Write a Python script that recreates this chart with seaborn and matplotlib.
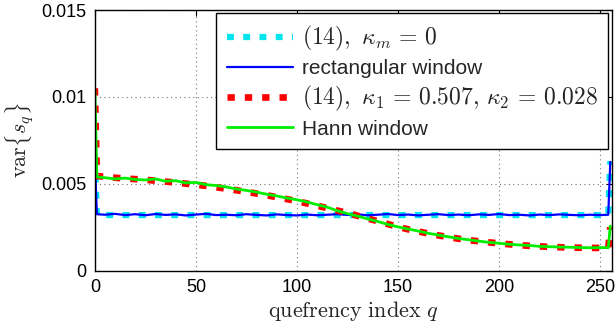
import matplotlib
matplotlib.use("Agg")
import matplotlib.pyplot as plt
import seaborn as sns
import pandas as pd

# ---- data ----
q = [0, 1, 5, 10, 15, 20, 25, 30, 35, 40, 45, 50, 55, 60, 65, 70, 75, 80, 85, 90,
     95, 100, 105, 110, 115, 120, 125, 130, 135, 140, 145, 150, 155, 160, 165, 170,
     175, 180, 185, 190, 195, 200, 205, 210, 215, 220, 225, 230, 235, 240, 245, 250,
     254, 255]

theory_rect = [0.0064] + [0.0032] * 52 + [0.0063]

rect_window = [0.0063, 0.00325, 0.00322, 0.00327, 0.0032, 0.00325, 0.00319, 0.00326,
               0.00321, 0.00324, 0.00318, 0.00323, 0.00327, 0.0032, 0.00322, 0.00319,
               0.00325, 0.00321, 0.00318, 0.00324, 0.0032, 0.00318, 0.00323, 0.00319,
               0.00322, 0.00325, 0.00321, 0.00324, 0.00319, 0.00322, 0.00326, 0.0032,
               0.00323, 0.00318, 0.00322, 0.00325, 0.0032, 0.00323, 0.00319, 0.00324,
               0.00321, 0.00326, 0.0032, 0.00322, 0.00318, 0.00323, 0.0032, 0.00324,
               0.00321, 0.00319, 0.00322, 0.0032, 0.00322, 0.00626]

theory_hann = [0.0105, 0.00545, 0.0054, 0.00535, 0.0053, 0.00527, 0.00523, 0.00518,
               0.00513, 0.00507, 0.00501, 0.00495, 0.00488, 0.0048, 0.00472, 0.00463,
               0.00454, 0.00444, 0.00434, 0.00423, 0.00412, 0.0040, 0.00387, 0.00374,
               0.0036, 0.00346, 0.00332, 0.00316, 0.003, 0.00285, 0.00268, 0.00252,
               0.00238, 0.00226, 0.00214, 0.00203, 0.00193, 0.00184, 0.00176, 0.00169,
               0.00163, 0.00157, 0.00152, 0.00147, 0.00143, 0.0014, 0.00137, 0.00135,
               0.00133, 0.00132, 0.00131, 0.00131, 0.0013, 0.0025]

hann_window = [0.0104, 0.0054, 0.00535, 0.00528, 0.00533, 0.00525, 0.00522, 0.00528,
               0.00515, 0.00518, 0.00505, 0.00508, 0.00495, 0.0049, 0.00482, 0.0047,
               0.00462, 0.00452, 0.0044, 0.0043, 0.00418, 0.00408, 0.00395, 0.0038,
               0.00365, 0.00345, 0.00328, 0.00314, 0.00298, 0.00283, 0.00266, 0.00252,
               0.0024, 0.00228, 0.00215, 0.00205, 0.00195, 0.00185, 0.00178, 0.0017,
               0.00163, 0.00158, 0.00152, 0.00148, 0.00145, 0.0014, 0.00138, 0.00136,
               0.00135, 0.00133, 0.00132, 0.00133, 0.00132, 0.00257]

labels = [r"$(14),\ \kappa_m \,=\, 0$", "rectangular window",
          r"$(14),\ \kappa_1 \,=\, 0.507,\, \kappa_2 \,=\, 0.028$", "Hann window"]
x_ticks = [0, 50, 100, 150, 200, 250]
y_ticks = [0, 0.005, 0.01, 0.015]
y_tick_labels = ["0", "0.005", "0.01", "0.015"]

# ---- style ----
sns.set_theme(style="white")
plt.rcParams["font.family"] = ["Liberation Sans", "DejaVu Sans"]
plt.rcParams["mathtext.fontset"] = "cm"

fig = plt.figure(figsize=(6.16, 3.35), dpi=100)
ax = fig.add_axes([0.154, 0.192, 0.840, 0.778])

df = pd.DataFrame({"q": q, "a": theory_rect, "b": rect_window,
                   "c": theory_hann, "d": hann_window})

sns.lineplot(data=df, x="q", y="a", ax=ax, color="#00e5ee", lw=4.5,
             linestyle=(0, (1.1, 1.5)), label=labels[0], sort=False)
sns.lineplot(data=df, x="q", y="b", ax=ax, color="#0000ff", lw=1.6,
             label=labels[1], sort=False)
sns.lineplot(data=df, x="q", y="c", ax=ax, color="#ff0000", lw=4.8,
             linestyle=(0, (1.1, 1.5)), label=labels[2], sort=False)
sns.lineplot(data=df, x="q", y="d", ax=ax, color="#00ee00", lw=2,
             label=labels[3], sort=False)
for ln in ax.lines:
    ln.set_dash_capstyle("butt")

ax.set_xlim(0, 256)
ax.set_ylim(0, 0.015)
ax.set_xticks(x_ticks)
ax.set_yticks(y_ticks)
ax.set_yticklabels(y_tick_labels)
ax.tick_params(direction="in", length=4, width=0.8, labelsize=13, colors="black",
               top=True, right=True, pad=6)
ax.grid(True, color="#777777", linestyle=(0, (1, 3)), lw=0.8)
for s in ax.spines.values():
    s.set_color("black")
    s.set_linewidth(1.0)

ax.set_xlabel(r"$\mathrm{quefrency\ index}\ q$", fontsize=16, labelpad=2)
ax.set_ylabel(r"$\mathrm{var}\{s_q\}$", fontsize=16, labelpad=4)

leg = ax.legend(loc="upper right", bbox_to_anchor=(0.992, 0.988), borderaxespad=0,
                fontsize=15, handlelength=3.2, handletextpad=0.4,
                labelspacing=0.3, borderpad=0.5, fancybox=False, framealpha=1)
leg.get_frame().set_edgecolor("black")
leg.get_frame().set_linewidth(1.0)
for i, t in enumerate(leg.get_texts()):
    if i in (0, 2):
        t.set_fontsize(17)

fig.savefig("out.png", dpi=100)
